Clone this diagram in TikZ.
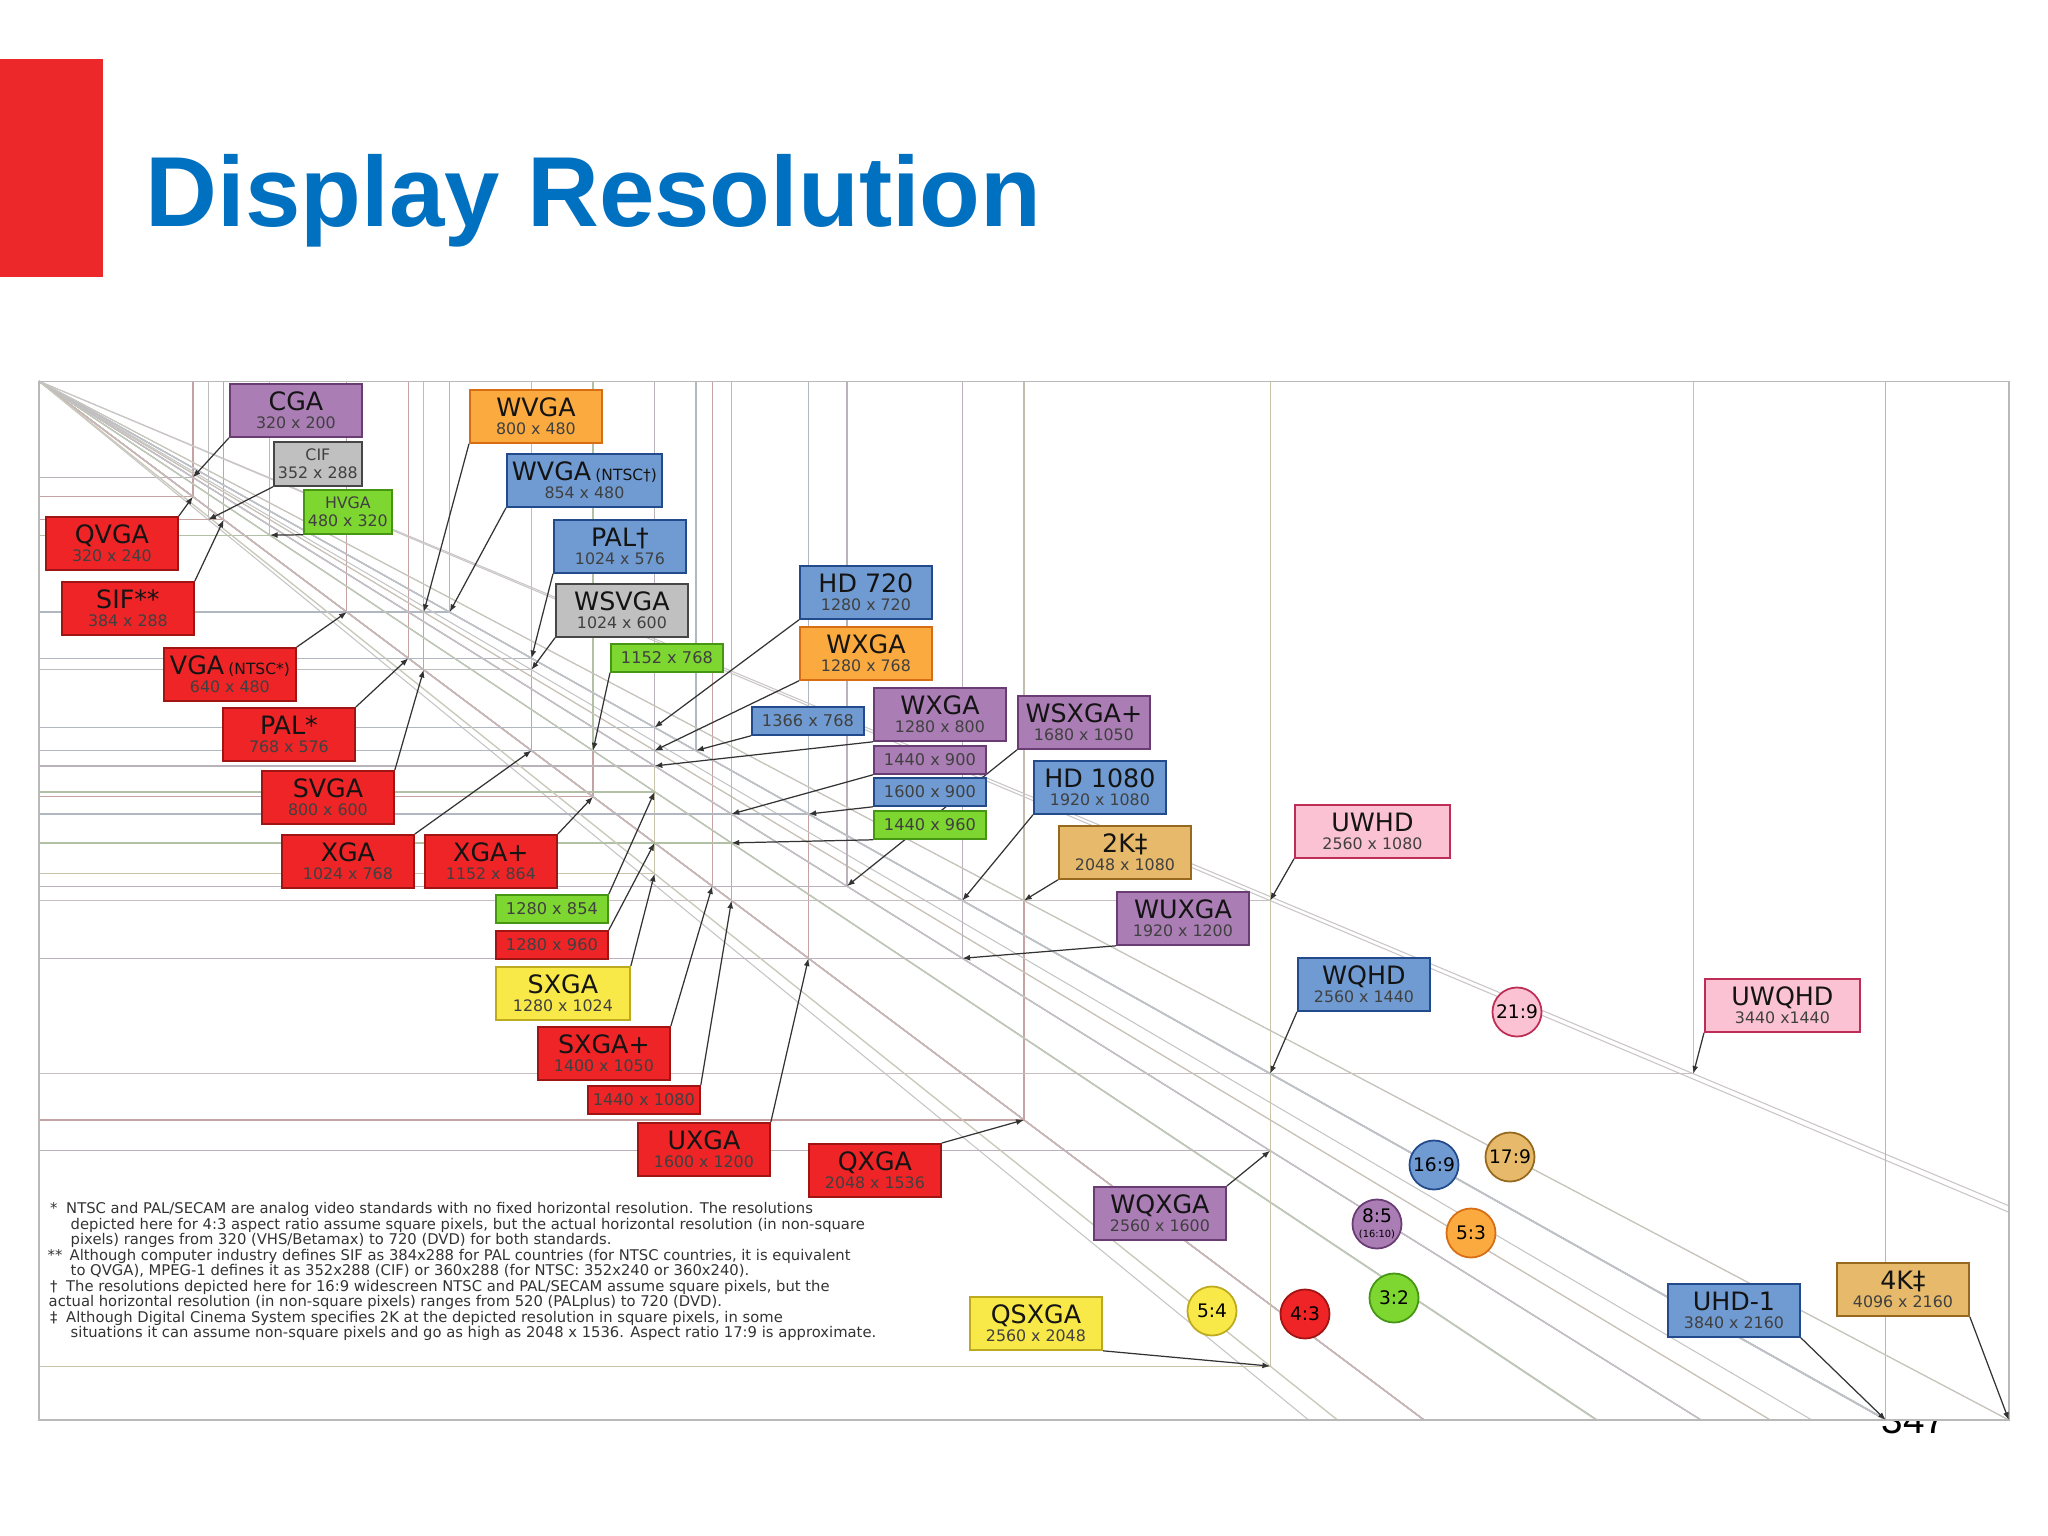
\documentclass[tikz,border=0pt]{standalone}
\usepackage{fontspec}
\setmainfont{Liberation Sans}
\newfontfamily\chartfont{DejaVu Sans}
\usetikzlibrary{arrows.meta,positioning}

\definecolor{slidered}{RGB}{236,40,42}
\definecolor{titleblue}{RGB}{0,112,192}
\definecolor{cred}{RGB}{238,36,38}     \definecolor{dred}{RGB}{160,20,20}
\definecolor{cpurple}{RGB}{170,125,180} \definecolor{dpurple}{RGB}{105,60,115}
\definecolor{cgray}{RGB}{192,192,192}   \definecolor{dgray}{RGB}{70,70,70}
\definecolor{cgreen}{RGB}{126,214,48}   \definecolor{dgreen}{RGB}{70,150,20}
\definecolor{corange}{RGB}{250,170,62}  \definecolor{dorange}{RGB}{215,110,20}
\definecolor{cblue}{RGB}{112,155,210}   \definecolor{dblue}{RGB}{35,75,140}
\definecolor{cyellow}{RGB}{248,232,72}  \definecolor{dyellow}{RGB}{190,170,30}
\definecolor{ctan}{RGB}{230,186,106}    \definecolor{dtan}{RGB}{150,105,30}
\definecolor{cpink}{RGB}{250,194,210}   \definecolor{dpink}{RGB}{190,45,85}

\newcommand{\lbl}[2]{{\fontsize{7.2}{8}\selectfont\color{black!92}#1}\\#2}

\pgfdeclarelayer{back}
\pgfdeclarelayer{chart}
\pgfdeclarelayer{arrows}
\pgfsetlayers{back,chart,arrows,main}

\tikzset{
  res/.style={draw, line width=0.5pt, inner sep=0pt, anchor=north west, align=center,
    minimum width=1.32cm, minimum height=0.53cm, text=black!75,
    font=\chartfont\fontsize{4.5}{5.1}\selectfont},
  onerow/.style={minimum width=1.12cm, minimum height=0.28cm,
    font=\chartfont\fontsize{4.6}{5.1}\selectfont},
  tiny/.style={minimum width=0.88cm, minimum height=0.44cm},
  redbox/.style={res, fill=cred, draw=dred},
  purplebox/.style={res, fill=cpurple, draw=dpurple},
  graybox/.style={res, fill=cgray, draw=dgray},
  greenbox/.style={res, fill=cgreen, draw=dgreen},
  orangebox/.style={res, fill=corange, draw=dorange},
  bluebox/.style={res, fill=cblue, draw=dblue},
  yellowbox/.style={res, fill=cyellow, draw=dyellow},
  tanbox/.style={res, fill=ctan, draw=dtan},
  pinkbox/.style={res, fill=cpink, draw=dpink},
  ratio/.style={circle, line width=0.5pt, minimum size=0.49cm, inner sep=0pt, align=center,
    font=\chartfont\fontsize{5.3}{5.5}\selectfont},
  arw/.style={-{Latex[length=2.2pt,width=1.7pt]}, line width=0.35pt, black!80},
  notes/.style={anchor=north west, align=left, inner sep=0pt, text=black!80,
    font=\chartfont\fontsize{4.2}{4.4}\selectfont}
}

\begin{document}
\begin{tikzpicture}[x=0.01cm, y=-0.01cm]
\useasboundingbox (0,0) rectangle (2048,1536);

\begin{pgfonlayer}{back}
  \fill[white] (0,0) rectangle (2048,1536);
  \node[anchor=base, inner sep=0pt, font=\fontsize{11}{13}\selectfont] (pagenum) at (1914,1433) {347};
\end{pgfonlayer}

% slide header
\fill[slidered] (0,59) rectangle (103,277);
\node[anchor=base west, inner sep=0pt, text=titleblue, font=\fontsize{28.3}{32}\selectfont\bfseries]
  (title) at (145,226) {Display Resolution};

% chart: pixel grid of the standards
\begin{pgfonlayer}{chart}
\begin{scope}[xshift=0.39cm, yshift=-3.81cm, x=0.004805cm, y=-0.004805cm]
  \fill[white] (0,0) rectangle (4096,2160);
  \foreach \w/\h/\col in {320/200/cpurple,352/288/cgray,480/320/cgreen,320/240/cred,384/288/cred,
      640/480/cred,768/576/cred,800/600/cred,1024/768/cred,1152/864/cred,1280/854/cgreen,
      1280/960/cred,1280/1024/cyellow,1400/1050/cred,1440/1080/cred,1600/1200/cred,2048/1536/cred,
      800/480/corange,854/480/cblue,1024/576/cblue,1024/600/cgray,1152/768/cgreen,1280/720/cblue,
      1280/768/corange,1366/768/cblue,1280/800/cpurple,1440/900/cpurple,1600/900/cblue,
      1440/960/cgreen,1680/1050/cpurple,1920/1080/cblue,2048/1080/ctan,1920/1200/cpurple,
      2560/1080/cpink,2560/1440/cblue,3440/1440/cpink,2560/1600/cpurple,2560/2048/cyellow,
      3840/2160/cblue,4096/2160/ctan}{
    \pgfmathsetmacro{\ex}{min(4096,2160*(\w/\h))}
    \pgfmathsetmacro{\ey}{\ex*(\h/\w)}
    \draw[line width=0.3pt, draw=\col!18!gray!50] (0,0) -- (\ex,\ey);
    \draw[line width=0.35pt, draw=\col!28!gray!60] (0,\h) -- (\w,\h) -- (\w,0);
    \coordinate (c\w-\h) at (\w,\h);
  }
  \draw[gray!55, line width=0.4pt] (0,0) rectangle (4096,2160);
\end{scope}
\end{pgfonlayer}

% 4:3 and other left column
\node[purplebox] (CGA) at (229,383) {\lbl{CGA}{320 x 200}};
\node[graybox, tiny] (CIF) at (273,441) {CIF\\352 x 288};
\node[greenbox, tiny] (HVGA) at (303,489) {HVGA\\480 x 320};
\node[redbox] (QVGA) at (45,516) {\lbl{QVGA}{320 x 240}};
\node[redbox] (SIF) at (61,581) {\lbl{SIF**}{384 x 288}};
\node[redbox] (VGA) at (163,647) {\lbl{VGA\,{\fontsize{4.4}{5}\selectfont(NTSC*)}}{640 x 480}};
\node[redbox] (PAL) at (222,707) {\lbl{PAL*}{768 x 576}};
\node[redbox] (SVGA) at (261,770) {\lbl{SVGA}{800 x 600}};
\node[redbox] (XGA) at (281,834) {\lbl{XGA}{1024 x 768}};
\node[redbox] (XGAp) at (424,834) {\lbl{XGA+}{1152 x 864}};
\node[greenbox, onerow] (r1280a) at (495,894) {1280 x 854};
\node[redbox, onerow] (r1280b) at (495,930) {1280 x 960};
\node[yellowbox, minimum width=1.34cm] (SXGA) at (495,966) {\lbl{SXGA}{1280 x 1024}};
\node[redbox] (SXGAp) at (537,1026) {\lbl{SXGA+}{1400 x 1050}};
\node[redbox, onerow] (r1440c) at (587,1085) {1440 x 1080};
\node[redbox] (UXGA) at (637,1122) {\lbl{UXGA}{1600 x 1200}};
\node[redbox] (QXGA) at (808,1143) {\lbl{QXGA}{2048 x 1536}};

% wide formats
\node[orangebox] (WVGA) at (469,389) {\lbl{WVGA}{800 x 480}};
\node[bluebox, minimum width=1.55cm] (WVGAn) at (506,453) {\lbl{WVGA\,{\fontsize{4.4}{5}\selectfont(NTSC†)}}{854 x 480}};
\node[bluebox] (PALw) at (553,519) {\lbl{PAL†}{1024 x 576}};
\node[graybox] (WSVGA) at (555,583) {\lbl{WSVGA}{1024 x 600}};
\node[greenbox, onerow] (r1152) at (610,643) {1152 x 768};
\node[bluebox] (HD720) at (799,565) {\lbl{HD 720}{1280 x 720}};
\node[orangebox] (WXGA) at (799,626) {\lbl{WXGA}{1280 x 768}};
\node[bluebox, onerow] (r1366) at (751,706) {1366 x 768};
\node[purplebox] (WXGAw) at (873,687) {\lbl{WXGA}{1280 x 800}};
\node[purplebox, onerow] (r1440a) at (873,745) {1440 x 900};
\node[bluebox, onerow] (r1600) at (873,777) {1600 x 900};
\node[greenbox, onerow] (r1440b) at (873,810) {1440 x 960};
\node[purplebox] (WSXGA) at (1017,695) {\lbl{WSXGA+}{1680 x 1050}};
\node[bluebox] (HD1080) at (1033,760) {\lbl{HD 1080}{1920 x 1080}};
\node[tanbox] (twoK) at (1058,825) {\lbl{2K‡}{2048 x 1080}};
\node[purplebox] (WUXGA) at (1116,891) {\lbl{WUXGA}{1920 x 1200}};
\node[pinkbox, minimum width=1.55cm] (UWHD) at (1294,804) {\lbl{UWHD}{2560 x 1080}};
\node[bluebox] (WQHD) at (1297,957) {\lbl{WQHD}{2560 x 1440}};
\node[pinkbox, minimum width=1.55cm] (UWQHD) at (1704,978) {\lbl{UWQHD}{3440 x1440}};
\node[purplebox] (WQXGA) at (1093,1186) {\lbl{WQXGA}{2560 x 1600}};
\node[yellowbox] (QSXGA) at (969,1296) {\lbl{QSXGA}{2560 x 2048}};
\node[bluebox] (UHD) at (1667,1283) {\lbl{UHD-1}{3840 x 2160}};
\node[tanbox] (fourK) at (1836,1262) {\lbl{4K‡}{4096 x 2160}};

% aspect ratios
\node[ratio, fill=cpink, draw=dpink] (q21) at (1517,1012) {21:9};
\node[ratio, fill=ctan, draw=dtan] (q17) at (1510,1157) {17:9};
\node[ratio, fill=cblue, draw=dblue] (q16) at (1434,1165) {16:9};
\node[ratio, fill=cpurple, draw=dpurple] (q85) at (1377,1224) {8:5\\[-1.2pt]{\fontsize{2.8}{3}\selectfont(16:10)}};
\node[ratio, fill=corange, draw=dorange] (q53) at (1471,1233) {5:3};
\node[ratio, fill=cgreen, draw=dgreen] (q32) at (1394,1298) {3:2};
\node[ratio, fill=cred, draw=dred] (q43) at (1305,1314) {4:3};
\node[ratio, fill=cyellow, draw=dyellow] (q54) at (1212,1311) {5:4};

% pointers to the corners
\begin{pgfonlayer}{arrows}
\foreach \n/\a/\p in {CGA/south west/c320-200, CIF/south west/c352-288, HVGA/south west/c480-320,
    QVGA/north east/c320-240, SIF/north east/c384-288, VGA/north east/c640-480,
    PAL/north east/c768-576, SVGA/north east/c800-600, XGA/north east/c1024-768,
    XGAp/north east/c1152-864, r1280a/north east/c1280-854, r1280b/north east/c1280-960,
    SXGA/north east/c1280-1024, SXGAp/north east/c1400-1050, r1440c/north east/c1440-1080,
    UXGA/north east/c1600-1200, QXGA/north east/c2048-1536, WVGA/south west/c800-480,
    WVGAn/south west/c854-480, PALw/south west/c1024-576, WSVGA/south west/c1024-600,
    r1152/south west/c1152-768, HD720/south west/c1280-720, WXGA/south west/c1280-768,
    r1366/south west/c1366-768, WXGAw/south west/c1280-800, r1440a/south west/c1440-900,
    r1600/south west/c1600-900, r1440b/south west/c1440-960, WSXGA/south west/c1680-1050,
    HD1080/south west/c1920-1080, twoK/south west/c2048-1080, WUXGA/south west/c1920-1200,
    UWHD/south west/c2560-1080, WQHD/south west/c2560-1440, UWQHD/south west/c3440-1440,
    WQXGA/north east/c2560-1600, QSXGA/south east/c2560-2048, UHD/south east/c3840-2160,
    fourK/south east/c4096-2160}
  \draw[arw] (\n.\a) -- (\p);
\end{pgfonlayer}

% footnotes
\node[notes] (notes) at (47,1202) {%
\makebox[0.185cm][l]{\,*}NTSC and PAL/SECAM are analog video standards with no fixed horizontal resolution. The resolutions\\
\hspace*{0.23cm}depicted here for 4:3 aspect ratio assume square pixels, but the actual horizontal resolution (in non-square\\
\hspace*{0.23cm}pixels) ranges from 320 (VHS/Betamax) to 720 (DVD) for both standards.\\
\makebox[0.22cm][l]{**}Although computer industry defines SIF as 384x288 for PAL countries (for NTSC countries, it is equivalent\\
\hspace*{0.23cm}to QVGA), MPEG-1 defines it as 352x288 (CIF) or 360x288 (for NTSC: 352x240 or 360x240).\\
\makebox[0.185cm][l]{\,†}The resolutions depicted here for 16:9 widescreen NTSC and PAL/SECAM assume square pixels, but the\\
\hspace*{0.01cm}actual horizontal resolution (in non-square pixels) ranges from 520 (PALplus) to 720 (DVD).\\
\makebox[0.185cm][l]{\,‡}Although Digital Cinema System specifies 2K at the depicted resolution in square pixels, in some\\
\hspace*{0.23cm}situations it can assume non-square pixels and go as high as 2048 x 1536. Aspect ratio 17:9 is approximate.};
\end{tikzpicture}
\end{document}
